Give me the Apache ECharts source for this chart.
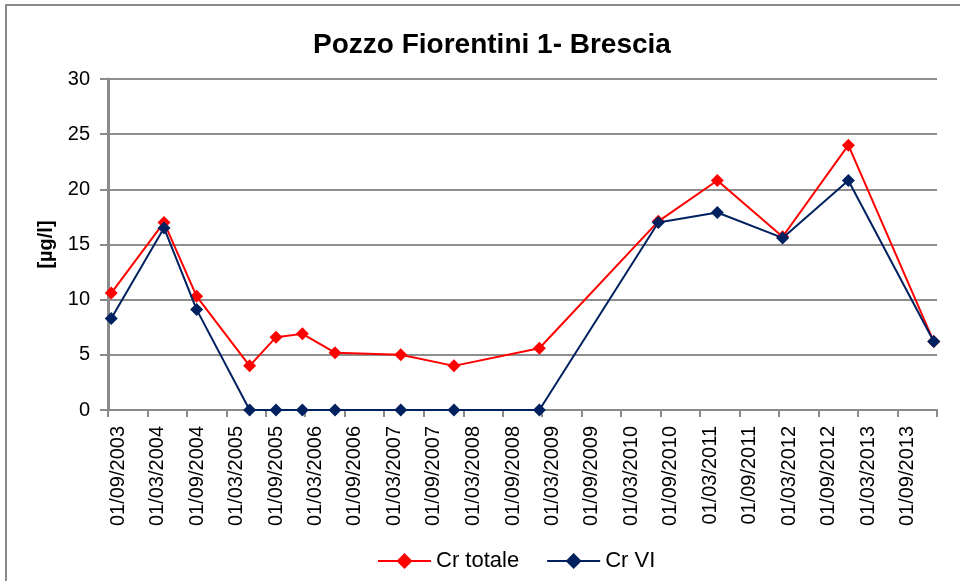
<!DOCTYPE html>
<html>
<head>
<meta charset="utf-8">
<script src="https://cdn.jsdelivr.net/npm/echarts@6/dist/echarts.min.js"></script>
<style>html,body{margin:0;padding:0;background:#fff}#c{width:960px;height:581px}</style>
</head>
<body>
<div id="c"></div>
<script>
// Sampling dates (yyyy-mm-dd)
const dates = ['2003-09-16','2004-05-17','2004-10-15','2005-06-17','2005-10-17','2006-02-16','2006-07-17','2007-05-17','2008-01-18','2009-02-16','2010-08-20','2011-05-20','2012-03-17','2013-01-15','2014-02-14'];
// Cr totale [µg/l]
const crTotale = [10.6, 17.0, 10.3, 4.0, 6.6, 6.9, 5.2, 5.0, 4.0, 5.6, 17.1, 20.8, 15.7, 24.0, 6.2];
// Cr VI [µg/l]
const crVI = [8.3, 16.5, 9.1, 0, 0, 0, 0, 0, 0, 0, 17.0, 17.9, 15.6, 20.8, 6.2];
// X tick labels
const tickLabels = ['01/09/2003','01/03/2004','01/09/2004','01/03/2005','01/09/2005','01/03/2006','01/09/2006','01/03/2007','01/09/2007','01/03/2008','01/09/2008','01/03/2009','01/09/2009','01/03/2010','01/09/2010','01/03/2011','01/09/2011','01/03/2012','01/09/2012','01/03/2013','01/09/2013'];
const axisEnd = '01/03/2014';

function parseDMY(s){ const p = s.split('/'); return Date.UTC(+p[2], +p[1]-1, +p[0]); }
function parseISO(s){ const p = s.split('-'); return Date.UTC(+p[0], +p[1]-1, +p[2]); }
const labelVals = tickLabels.map(parseDMY);
const tickVals = labelVals.concat([parseDMY(axisEnd)]);
function fmt(v){ const d = new Date(v); const dd = String(d.getUTCDate()).padStart(2,'0'); const mm = String(d.getUTCMonth()+1).padStart(2,'0'); return dd+'/'+mm+'/'+d.getUTCFullYear(); }

const chart = echarts.init(document.getElementById('c'), null, {renderer:'canvas'});
const font = 'Liberation Sans, Arial, sans-serif';
chart.setOption({
  animation: false,
  backgroundColor: '#fff',
  textStyle: {fontFamily: font},
  title: {
    text: 'Pozzo Fiorentini 1- Brescia',
    left: 487, top: 26, textAlign: 'center',
    textStyle: {fontFamily: font, fontSize: 28, fontWeight: 'bold', color: '#000'}
  },
  graphic: [{
    type: 'rect', shape: {x: 6, y: 5, width: 1000, height: 1000},
    style: {fill: 'none', stroke: '#8a8a8a', lineWidth: 2}, silent: true
  }],
  grid: {left: 108, right: 23, top: 79, bottom: 171, containLabel: false},
  legend: {
    left: 372, top: 545,
    itemWidth: 53, itemHeight: 20, itemGap: 27,
    textStyle: {fontFamily: font, fontSize: 22, color: '#000'},
    data: ['Cr totale', 'Cr VI']
  },
  xAxis: {
    type: 'value',
    min: parseDMY(tickLabels[0]),
    max: parseDMY(axisEnd),
    axisLine: {lineStyle: {color: '#8a8a8a', width: 2}},
    axisTick: {show: true, length: 7, lineStyle: {color: '#8a8a8a', width: 2}, customValues: tickVals},
    axisLabel: {
      rotate: 90, margin: 16, fontSize: 20, color: '#000', fontFamily: font,
      customValues: labelVals, formatter: v => fmt(v), verticalAlign: 'top',
      showMinLabel: true, showMaxLabel: true
    },
    splitLine: {show: false}
  },
  yAxis: {
    type: 'value', min: 0, max: 30, interval: 5,
    name: '[µg/l]', nameLocation: 'middle', nameGap: 50, nameRotate: 90,
    nameTextStyle: {fontFamily: font, fontSize: 20, fontWeight: 'bold', color: '#000'},
    axisLine: {show: true, lineStyle: {color: '#8a8a8a', width: 3}},
    axisTick: {show: true, length: 8, lineStyle: {color: '#8a8a8a', width: 2}},
    axisLabel: {margin: 18, fontSize: 20, color: '#000', fontFamily: font},
    splitLine: {show: true, lineStyle: {color: '#8e8e8e', width: 2}}
  },
  series: [
    {
      name: 'Cr totale', type: 'line',
      data: dates.map((d,i) => [parseISO(d), crTotale[i]]),
      symbol: 'diamond', symbolSize: 13,
      itemStyle: {color: '#ff0000'},
      lineStyle: {color: '#ff0000', width: 2},
      z: 3
    },
    {
      name: 'Cr VI', type: 'line',
      data: dates.map((d,i) => [parseISO(d), crVI[i]]),
      symbol: 'diamond', symbolSize: 13,
      itemStyle: {color: '#00215f'},
      lineStyle: {color: '#00215f', width: 2},
      z: 4
    }
  ]
});
</script>
</body>
</html>
